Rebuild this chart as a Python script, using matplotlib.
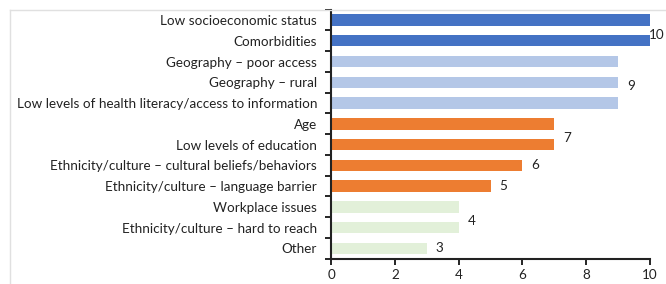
import matplotlib.pyplot as plt
import matplotlib.lines as mlines
import numpy as np

# barrier categories, top to bottom
categories = [
    'Low socioeconomic status',
    'Comorbidities',
    'Geography \u2013 poor access',
    'Geography \u2013 rural',
    'Low levels of health literacy/access to information',
    'Age',
    'Low levels of education',
    'Ethnicity/culture \u2013 cultural beliefs/behaviors',
    'Ethnicity/culture \u2013 language barrier',
    'Workplace issues',
    'Ethnicity/culture \u2013 hard to reach',
    'Other',
]
counts = [10, 10, 9, 9, 9, 7, 7, 6, 5, 4, 4, 3]
groups = [0, 0, 1, 1, 1, 2, 2, 2, 2, 3, 3, 3]
group_colors = ['#4472C4', '#B4C7E7', '#ED7D31', '#E2F0D9']

plt.rcParams['font.family'] = ['Lato', 'DejaVu Sans']
fs = 9.7

fig = plt.figure(figsize=(6.66, 2.84), dpi=100)
ax = fig.add_axes([0.497, 0.089, 0.479, 0.877])

y = np.arange(len(categories))
colors = [group_colors[g] for g in groups]
ax.barh(y, counts, height=0.55, color=colors)

ax.set_ylim(len(categories) - 0.5, -0.5)
ax.set_xlim(0, 10)
ax.set_xticks(range(0, 11, 2))
ax.set_yticks(y)
ax.set_yticklabels(categories, fontsize=fs, color='#222222')
ax.set_yticks(np.arange(-0.5, len(categories) + 0.5, 1), minor=True)
ax.tick_params(axis='y', which='major', length=0, pad=10)
ax.tick_params(axis='y', which='minor', length=4, width=1.2, direction='out')
ax.tick_params(axis='x', length=4, width=1.2, labelsize=fs, labelcolor='#222222')

for s in ['top', 'right']:
    ax.spines[s].set_visible(False)
for s in ['left', 'bottom']:
    ax.spines[s].set_linewidth(1.5)
    ax.spines[s].set_color('#222222')

# one value label per run of equal counts
i = 0
while i < len(counts):
    j = i
    while j + 1 < len(counts) and counts[j + 1] == counts[i]:
        j += 1
    ypos = (i + j) / 2 + (0.2 if j > i else 0)
    xpos = min(counts[i] + 0.4, 10.2)
    ax.text(xpos, ypos, str(counts[i]), ha='center', va='center',
            fontsize=fs, color='#222222', clip_on=False)
    i = j + 1

# faint outer frame
fig.add_artist(mlines.Line2D([10 / 666, 1], [1 - 10 / 284, 1 - 10 / 284],
                             color='#e0e0e0', lw=1))
fig.add_artist(mlines.Line2D([10 / 666, 10 / 666], [0, 1 - 10 / 284],
                             color='#e0e0e0', lw=1))

fig.savefig('out.png', dpi=100)
